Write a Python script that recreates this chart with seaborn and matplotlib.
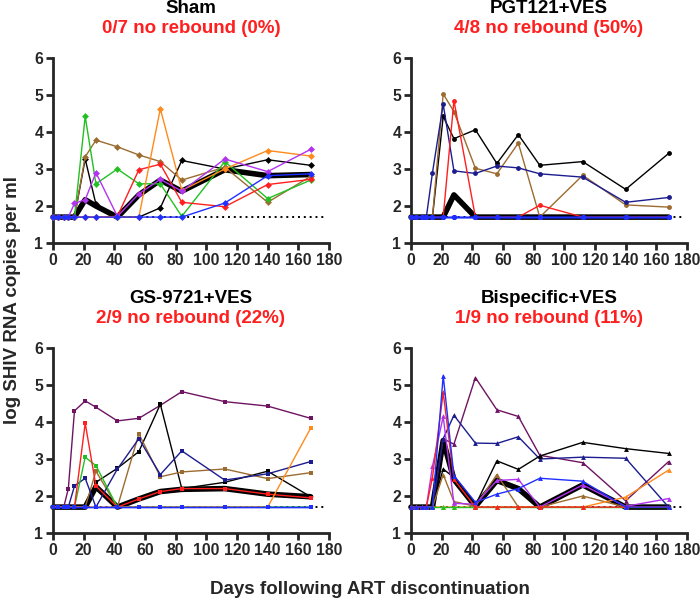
import matplotlib
matplotlib.use("Agg")
import matplotlib.pyplot as plt
import seaborn as sns

# Sampling days after ART discontinuation
DAYS = [0, 3, 7, 10, 14, 21, 28, 42, 56, 70, 84, 112, 140, 168]
LOD = 1.7

# Sham
sham_black = [1.7] * 5 + [3.27, 2.05, 1.7, 1.7, 1.95, 3.23, 3.0, 3.25, 3.1]
sham_brown = [1.7] * 5 + [3.33, 3.78, 3.6, 3.38, 3.2, 2.7, 3.05, 2.1, 2.8]
sham_green = [1.7] * 5 + [4.42, 2.6, 3.0, 2.6, 2.6, 1.72, 3.2, 2.2, 2.7]
sham_purple = [1.7] * 4 + [2.07, 2.17, 2.9, 1.72, 2.33, 2.72, 2.4, 3.27, 2.93, 3.53]
sham_red = [1.7] * 7 + [1.72, 2.98, 3.13, 2.1, 1.98, 2.58, 2.72]
sham_orange = [1.7] * 9 + [4.63, 2.42, 3.0, 3.5, 3.35]
sham_blue = [1.7] * 11 + [2.08, 2.82, 2.87]
sham_median = [1.7] * 5 + [2.17, 2.0, 1.7, 2.3, 2.7, 2.4, 2.98, 2.82, 2.85]

# PGT121+VES
pgt_navy = [1.7] * 4 + [2.9, 4.75, 2.95, 2.88, 3.08, 3.03, 2.87, 2.78, 2.1, 2.23]
pgt_brown = [1.7] * 5 + [5.03, 4.55, 3.02, 2.87, 3.7, 1.7, 2.83, 2.03, 1.97]
pgt_black = [1.7] * 5 + [4.42, 3.82, 4.06, 3.15, 3.93, 3.1, 3.2, 2.45, 3.42]
pgt_red = [1.7] * 6 + [4.85, 1.7, 1.7, 1.7, 2.02, 1.7, 1.7, 1.7]
pgt_blue = [1.7] * 14
pgt_median = [1.7] * 6 + [2.3] + [1.7] * 7

# GS-9721+VES
gs_purple = [1.7] * 3 + [2.2, 4.3, 4.57, 4.4, 4.03, 4.1, 4.45, 4.82, 4.55, 4.43, 4.1]
gs_red = [1.7] * 5 + [3.97, 2.27, 1.7, 1.92, 2.12, 2.2, 2.2, 2.05, 1.95]
gs_green = [1.7] * 5 + [3.05, 2.82] + [1.7] * 7
gs_navy = [1.7] * 4 + [2.27, 2.48, 1.7, 2.73, 3.55, 2.58, 3.22, 2.43, 2.6, 2.93]
gs_black = [1.7] * 6 + [2.37, 2.75, 3.2, 4.48, 2.2, 2.37, 2.67, 1.98]
gs_brown = [1.7] * 6 + [2.67, 1.7, 3.68, 2.52, 2.65, 2.73, 2.47, 2.63]
gs_orange = [1.7] * 13 + [3.83]
gs_blue = [1.7] * 14
gs_median = [1.7] * 6 + [2.25, 1.7, 1.92, 2.12, 2.18, 2.2, 2.05, 1.98]

# Bispecific+VES
bis_blue = [1.7] * 5 + [5.25, 2.55, 1.83, 2.05, 2.2, 2.48, 2.4, 1.7, 1.7]
bis_red = [1.7] * 4 + [2.5, 4.8, 2.45] + [1.7] * 7
bis_magenta = [1.7] * 4 + [2.8, 4.15, 1.8, 1.78, 2.42, 2.45, 1.7, 2.3, 1.72, 1.93]
bis_navy = [1.7] * 5 + [3.55, 4.18, 3.43, 3.42, 3.6, 3.0, 3.05, 3.02, 1.7]
bis_maroon = [1.7] * 5 + [3.55, 3.4, 5.2, 4.33, 4.15, 3.1, 2.9, 1.87, 2.93]
bis_black = [1.7] * 5 + [2.73, 2.5, 1.75, 2.95, 2.72, 3.08, 3.45, 3.28, 3.15]
bis_brown = [1.7] * 5 + [2.58, 1.85, 1.72, 2.58, 1.7, 1.7, 2.0, 1.7, 1.7]
bis_orange = [1.7] * 12 + [1.97, 2.7]
bis_green = [1.7] * 14
bis_median = [1.7] * 5 + [3.5, 2.45, 1.72, 2.42, 2.2, 1.7, 2.3, 1.7, 1.7]

TITLES = ["Sham", "PGT121+VES", "GS-9721+VES", "Bispecific+VES"]
SUBTITLES = ["0/7 no rebound (0%)", "4/8 no rebound (50%)",
             "2/9 no rebound (22%)", "1/9 no rebound (11%)"]

C = {"black": "#000000", "brown": "#9C6B30", "green": "#22C022",
     "purple": "#B233F0", "red": "#FF1F1F", "orange": "#FF8A1C",
     "blue": "#1F2FFF", "navy": "#1C1C8F", "maroon": "#6E1462"}

panels = [
    ("D", sham_median, [(sham_black, "black"), (sham_brown, "brown"), (sham_green, "green"),
                        (sham_red, "red"), (sham_orange, "orange"), (sham_purple, "purple"),
                        (sham_blue, "blue")]),
    ("o", pgt_median, [(pgt_black, "black"), (pgt_brown, "brown"), (pgt_navy, "navy"),
                       (pgt_red, "red")] + [(pgt_blue, "blue")] * 4),
    ("s", gs_median, [(gs_purple, "maroon"), (gs_black, "black"), (gs_brown, "brown"),
                      (gs_navy, "navy"), (gs_green, "green"), (gs_red, "red"),
                      (gs_orange, "orange")] + [(gs_blue, "blue")] * 2),
    ("^", bis_median, [(bis_maroon, "maroon"), (bis_navy, "navy"), (bis_black, "black"),
                       (bis_brown, "brown"), (bis_orange, "orange"), (bis_green, "green"),
                       (bis_magenta, "purple"), (bis_red, "red"), (bis_blue, "blue")]),
]

sns.set_style("ticks")
plt.rcParams["font.family"] = ["Liberation Sans", "DejaVu Sans"]
plt.rcParams["font.weight"] = "bold"

W, H = 700, 606
fig = plt.figure(figsize=(W / 100, H / 100), dpi=100)

# axes boxes in pixels: left, top
boxes = [(53, 58), (411, 58), (53, 348), (411, 348)]
aw, ah = 276, 185

for (marker, median, animals), (lx, ty), title, sub in zip(panels, boxes, TITLES, SUBTITLES):
    ax = fig.add_axes([lx / W, 1 - (ty + ah) / H, aw / W, ah / H])

    ax.plot([0, 178], [LOD, LOD], ls=(0, (1, 2)), color="black", lw=1.4, zorder=1)
    sns.lineplot(x=DAYS, y=median, ax=ax, color="black", lw=4, estimator=None,
                 sort=False, zorder=2, clip_on=False)
    for vals, cname in animals:
        sns.lineplot(x=DAYS, y=vals, ax=ax, color=C[cname], lw=1, marker=marker,
                     markersize=3.5, markeredgewidth=0, estimator=None, sort=False,
                     zorder=3, clip_on=False)

    ax.set_xlim(0, 180)
    ax.set_ylim(1, 6)
    ax.set_xticks(range(0, 181, 20))
    ax.set_yticks(range(1, 7))
    ax.set_xlabel("")
    ax.set_ylabel("")
    sns.despine(ax=ax)
    for s in ("left", "bottom"):
        ax.spines[s].set_linewidth(2)
    ax.tick_params(width=2, length=5, labelsize=11.3, pad=2)
    for lab in ax.get_xticklabels() + ax.get_yticklabels():
        lab.set_fontweight("bold")

    ax.text(0.5, 1.265, title, transform=ax.transAxes, ha="center", va="center",
            fontsize=13.5, fontweight="bold", color="black")
    ax.text(0.5, 1.16, sub, transform=ax.transAxes, ha="center", va="center",
            fontsize=13.5, fontweight="bold", color="#FF1F1F")

fig.text(13 / W, 1 - 300 / H, "log SHIV RNA copies per ml", rotation=90,
         ha="center", va="center", fontsize=13.5, fontweight="bold")
fig.text(370 / W, 1 - 590 / H, "Days following ART discontinuation",
         ha="center", va="center", fontsize=13.5, fontweight="bold")

fig.savefig("out.png", dpi=100)
